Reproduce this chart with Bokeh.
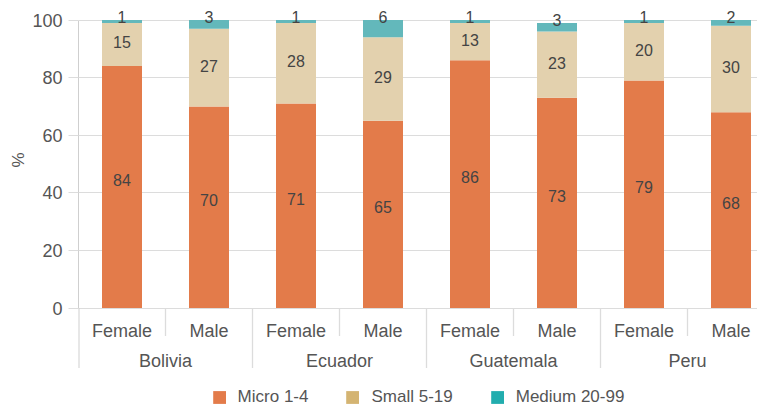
from bokeh.plotting import figure
from bokeh.models import ColumnDataSource, Range1d, Legend, LegendItem, FixedTicker, Title
from bokeh.core.properties import value
from bokeh.embed import file_html
from bokeh.resources import INLINE

# Firm size distribution of employed, by country and sex (%)
countries = ["Bolivia", "Ecuador", "Guatemala", "Peru"]
genders = ["Female", "Male"]
series = ["Micro 1-4", "Small 5-19", "Medium 20-99"]
micro = [84, 70, 71, 65, 86, 73, 79, 68]
small = [15, 27, 28, 29, 13, 23, 20, 30]
medium = [1, 3, 1, 6, 1, 3, 1, 2]
y_ticks = [0, 20, 40, 60, 80, 100]

bar_colors = ["#E37B4A", "#E3D1AE", "#63B8BB"]
legend_colors = ["#E37B4A", "#D4B472", "#22ADAE"]

FONT = "Liberation Sans"
TEXT = "#555555"
GRID = "#DCDCDC"

# layout in pixels
W, H = 757, 407
LEFT = 78          # width of the y-axis panel
SLOT = 87          # horizontal room per bar
ZERO_PX = 307.5    # distance of the zero line from the top
UNIT_PX = 2.88     # pixels per percentage point

x_start = -0.5
x_end = x_start + (W - LEFT) / SLOT
y_end = ZERO_PX / UNIT_PX
y_start = -(H - ZERO_PX) / UNIT_PX

n = len(micro)
idx = list(range(n))
mid_base = micro
top_base = [m + s for m, s in zip(micro, small)]
total = [t + d for t, d in zip(top_base, medium)]

src = ColumnDataSource(dict(
    x=idx,
    micro=micro, small=small, medium=medium,
    mid_base=mid_base, top_base=top_base, total=total,
    micro_c=[m / 2 for m in micro],
    small_c=[b + s / 2 for b, s in zip(mid_base, small)],
    micro_t=[str(v) for v in micro],
    small_t=[str(v) for v in small],
    medium_t=[str(v) for v in medium],
))

p = figure(width=W, height=H,
           x_range=Range1d(x_start, x_end), y_range=Range1d(y_start, y_end),
           output_backend="svg", toolbar_location=None, x_axis_location=None,
           min_border_left=LEFT, min_border_right=0, min_border_top=0, min_border_bottom=0)
p.outline_line_color = None
p.background_fill_color = "white"
p.xgrid.visible = False

# y axis
yax = p.yaxis[0]
yax.ticker = FixedTicker(ticks=y_ticks)
yax.bounds = (0, 100)
yax.major_label_text_font = FONT
yax.major_label_text_font_size = "18px"
yax.major_label_text_color = TEXT
yax.major_label_standoff = 6
yax.major_tick_in = 0
yax.major_tick_out = 10
yax.major_tick_line_color = GRID
yax.minor_tick_line_color = None
yax.axis_line_color = "#CFCFCF"
p.ygrid.ticker = FixedTicker(ticks=y_ticks)
p.ygrid.grid_line_color = GRID

# unit title on the left, level with the middle of the value scale
p.add_layout(Title(text="%", align="left", offset=240, standoff=3,
                   text_font=FONT, text_font_size="17px", text_font_style="normal",
                   text_color=TEXT), "left")

# stacked bars
BW = 40 / SLOT
p.vbar(x="x", bottom=0, top="micro", width=BW, source=src, fill_color=bar_colors[0], line_color=None)
p.vbar(x="x", bottom="mid_base", top="top_base", width=BW, source=src, fill_color=bar_colors[1], line_color=None)
p.vbar(x="x", bottom="top_base", top="total", width=BW, source=src, fill_color=bar_colors[2], line_color=None)

# value labels
lab = dict(source=src, text_align="center", text_baseline="middle",
           text_font=value(FONT), text_font_size="16px", text_color="#444444")
p.text(x="x", y="micro_c", text="micro_t", y_offset=-7, **lab)
p.text(x="x", y="small_c", text="small_t", y_offset=-2, **lab)
p.text(x="x", y="total", text="medium_t", y_offset=-3, **lab)

# two-level category axis drawn under the zero line
cat = dict(text_align="center", text_baseline="middle", text_font=value(FONT),
           text_font_size="18px", text_color=TEXT)
p.text(x=idx, y=[0] * n, text=[genders[i % 2] for i in idx], y_offset=23, **cat)
p.text(x=[2 * k + 0.5 for k in range(len(countries))], y=[0] * len(countries),
       text=countries, y_offset=53, **cat)

inner_x = [2 * k + 0.5 for k in range(len(countries))]
outer_x = [2 * k - 0.5 for k in range(len(countries) + 1)]
p.segment(x0=inner_x, y0=[0] * len(inner_x), x1=inner_x, y1=[-28 / UNIT_PX] * len(inner_x),
          line_color=GRID, line_width=1.3)
p.segment(x0=outer_x[1:], y0=[0] * (len(outer_x) - 1), x1=outer_x[1:],
          y1=[-60 / UNIT_PX] * (len(outer_x) - 1), line_color=GRID, line_width=1.3)
# left edge continues the y-axis line down through the category labels
p.segment(x0=outer_x[:1], y0=[0], x1=outer_x[:1], y1=[-60 / UNIT_PX],
          line_color="#CFCFCF", line_width=2)

# legend swatches (hidden renderers carrying the legend colours)
items = []
for name, col, top_col in zip(series, legend_colors, ["micro", "top_base", "total"]):
    r = p.vbar(x="x", top=top_col, width=BW, source=src, fill_color=col, line_color=None,
               visible=False)
    items.append(LegendItem(label=name, renderers=[r]))
legend = Legend(items=items, orientation="horizontal", location="bottom_center",
                glyph_width=16, glyph_height=16, label_standoff=11, spacing=36,
                padding=4, margin=0, border_line_color=None, background_fill_alpha=0,
                inactive_fill_alpha=0,
                label_text_font=FONT, label_text_font_size="17px", label_text_color=TEXT)
p.add_layout(legend)

open("out.html", "w").write(file_html(p, INLINE))
